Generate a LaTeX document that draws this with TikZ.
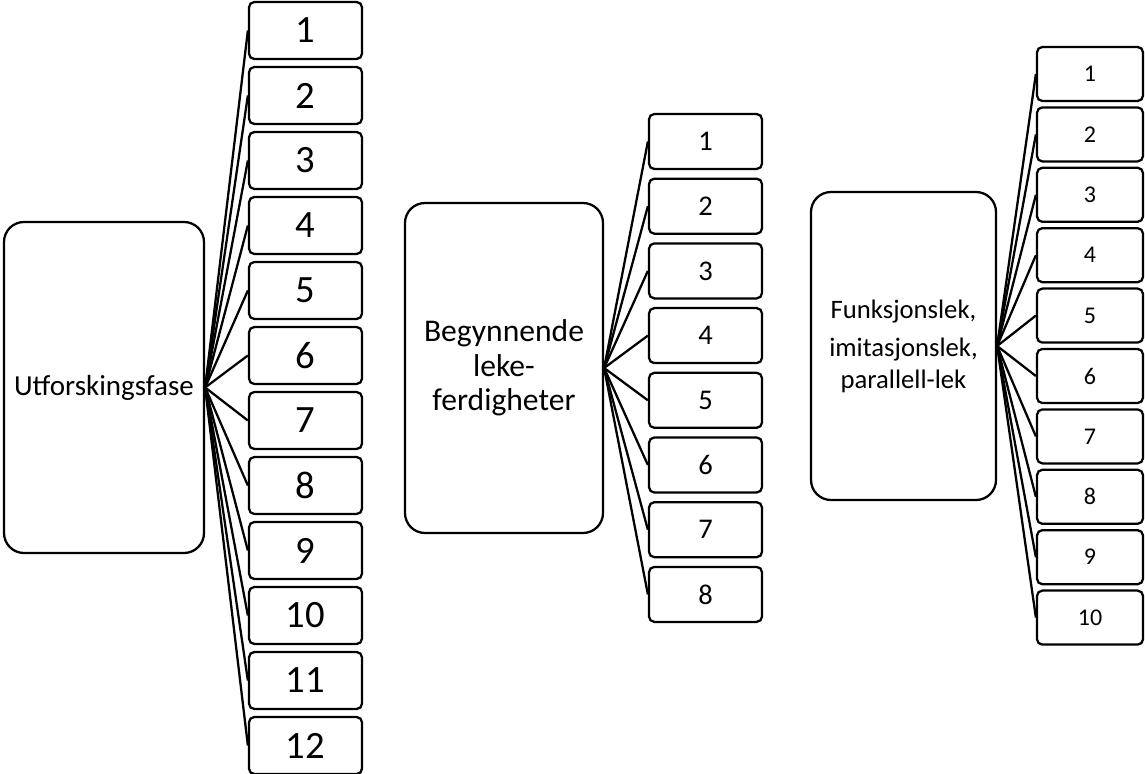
\documentclass[tikz,border=0pt]{standalone}
\usepackage{fontspec}
\setmainfont{Carlito}
\begin{document}
\begin{tikzpicture}[x=0.75pt,y=-0.75pt,
  bigbox/.style={draw,line width=1.7pt,rounded corners=15pt,align=center,inner sep=0pt},
  smallbox/.style={draw,line width=1.7pt,rounded corners=4pt,inner sep=0pt},
  link/.style={line width=1.7pt}]
\useasboundingbox (0,0) rectangle (1145,774);

% left group
\node[bigbox,minimum width=150pt,minimum height=248.25pt,font=\fontsize{21.75}{26}\selectfont] (Lbig) at (104,387.5) {Utforskingsfase};
\foreach \i in {1,...,12} {
  \node[smallbox,minimum width=84.75pt,minimum height=42.75pt,font=\fontsize{29}{30}\selectfont] (L\i) at (305.5,{30.5+65*(\i-1)}) {\i};
  \draw[link] (Lbig.east) -- (L\i.west);
}

% middle group
\node[bigbox,minimum width=148.5pt,minimum height=247.5pt,font=\fontsize{23.7}{26}\selectfont] (Mbig) at (504,368) {Begynnende\\leke-\\ferdigheter};
\foreach \i in {1,...,8} {
  \node[smallbox,minimum width=84.75pt,minimum height=41.25pt,font=\fontsize{21.4}{23}\selectfont] (M\i) at (705.5,{141.5+64.7*(\i-1)}) {\i};
  \draw[link] (Mbig.east) -- (M\i.west);
}

% right group
\node[bigbox,minimum width=138.75pt,minimum height=231pt,font=\fontsize{20}{24}\selectfont] (Rbig) at (903.5,346) {Funksjonslek,\\[4.5pt]imitasjonslek,\\parallell-lek};
\foreach \i in {1,...,10} {
  \node[smallbox,minimum width=79.5pt,minimum height=40.5pt,font=\fontsize{18}{20}\selectfont] (R\i) at (1090,{74+60.4*(\i-1)}) {\i};
  \draw[link] (Rbig.east) -- (R\i.west);
}
\end{tikzpicture}
\end{document}
